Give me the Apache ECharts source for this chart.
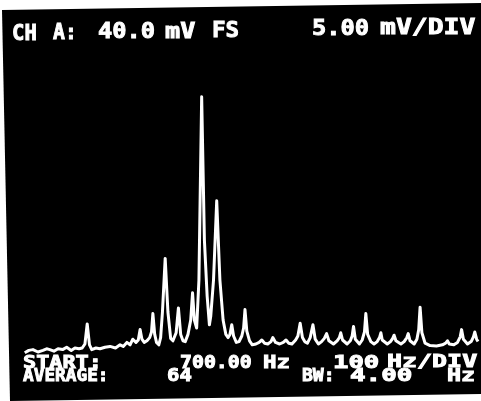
<!DOCTYPE html>
<html>
<head>
<meta charset="utf-8">
<style>
  html, body { margin: 0; padding: 0; background: #fff; }
  #chart { width: 481px; height: 401px; }
</style>
<script src="https://cdn.jsdelivr.net/npm/echarts@6/dist/echarts.min.js"></script>
</head>
<body>
<div id="chart"></div>
<script>
// Averaged spectrum trace: frequency (Hz) and level (mV)
const traceHz = [
  706, 715, 724, 735, 746, 754, 761, 770, 779, 789,
  798, 808, 816, 825, 832, 838, 843, 848, 853, 862,
  871, 882, 893, 905, 915, 922, 930, 937, 943, 950,
  955, 959, 963, 968, 974, 980, 984, 987, 991, 995,
  1000, 1004, 1008, 1014, 1020, 1026, 1031, 1038, 1043, 1048,
  1053, 1058, 1064, 1070, 1074, 1078, 1083, 1088, 1094, 1100,
  1106, 1111, 1114, 1120, 1127, 1134, 1141, 1147, 1152, 1156,
  1160, 1164, 1170, 1176, 1182, 1186, 1189, 1193, 1199, 1205,
  1213, 1220, 1226, 1232, 1239, 1246, 1250, 1256, 1265, 1273,
  1279, 1285, 1292, 1300, 1305, 1310, 1315, 1320, 1326, 1332,
  1338, 1343, 1350, 1357, 1363, 1368, 1373, 1383, 1391, 1396,
  1399, 1403, 1413, 1420, 1424, 1427, 1431, 1440, 1446, 1451,
  1454, 1458, 1465, 1472, 1479, 1484, 1487, 1490, 1501, 1508,
  1513, 1516, 1520, 1531, 1538, 1544, 1547, 1551, 1560, 1566,
  1570, 1573, 1577, 1584, 1595, 1609, 1622, 1629, 1633, 1637,
  1647, 1655, 1661, 1664, 1668, 1677, 1685, 1690, 1693, 1697,
  1700
];
const traceMv = [
  0.9, 1.2, 1.3, 1.0, 1.2, 1.4, 1.3, 1.1, 1.4, 1.3,
  1.6, 1.2, 1.5, 1.4, 1.5, 2.0, 4.5, 1.9, 1.3, 1.5,
  1.4, 1.6, 1.7, 1.5, 1.9, 1.7, 2.2, 1.9, 2.6, 2.2,
  2.5, 3.8, 2.6, 2.2, 2.4, 2.8, 3.5, 5.8, 3.2, 2.2,
  1.9, 2.8, 6.0, 12.7, 6.0, 2.7, 2.4, 3.4, 6.5, 3.2,
  2.4, 2.3, 3.2, 5.0, 8.4, 5.0, 4.0, 10.0, 32.9, 15.0,
  8.0, 4.4, 5.5, 10.0, 19.9, 10.0, 5.0, 3.2, 2.8, 3.2,
  4.4, 3.0, 2.2, 2.3, 3.0, 4.0, 6.3, 3.6, 2.4, 1.9,
  2.0, 2.2, 2.5, 2.1, 2.0, 2.3, 2.8, 2.2, 2.0, 2.2,
  2.5, 2.1, 2.0, 2.5, 3.0, 4.6, 2.8, 2.3, 2.1, 2.8,
  4.4, 2.6, 2.0, 2.3, 2.7, 3.3, 2.4, 2.0, 2.4, 2.8,
  3.4, 2.5, 2.0, 2.4, 3.0, 4.2, 2.6, 2.0, 2.5, 3.5,
  5.8, 3.2, 2.3, 2.0, 2.3, 2.8, 3.4, 2.5, 2.0, 2.3,
  2.7, 3.1, 2.4, 2.0, 2.3, 2.8, 3.3, 2.4, 2.0, 2.6,
  3.8, 6.6, 3.4, 2.1, 1.8, 1.75, 1.9, 2.1, 2.4, 2.0,
  1.9, 2.2, 2.9, 3.8, 2.6, 2.0, 2.3, 2.9, 3.5, 2.6,
  2.3
];

// Display scales: start 700 Hz, 100 Hz/div over 10 divisions; 40 mV full scale
const freqStart = 700;
const freqPerDiv = 100;
const freqDivs = 10;
const fullScaleMv = 40;

// On-screen readouts
const readoutTop = ['CH', 'A:', '40.0', 'mV', 'FS', '5.00', 'mV/DIV'];
const readoutLine1 = ['START:', '700.00', 'Hz', '100', 'Hz/DIV'];
const readoutLine2 = ['AVERAGE:', '64', 'BW:', '4.00', 'Hz'];

// Placement of each readout word: left/right extent and vertical centre
const topBoxes = [[12, 35, 34.5], [53, 75, 34], [98, 153, 33], [165, 193, 32.5], [212, 237, 32], [312, 367, 29.5], [380, 473, 29]];
const line1Boxes = [[23, 100, 364], [180, 250, 364], [263, 288, 364], [333, 377, 364], [387, 475, 363]];
const line2Boxes = [[23, 107, 376.5], [167, 190, 376.5], [302, 333, 376.5], [350, 410, 376.5], [447, 473, 376.5]];

const monoFont = 'DejaVu Sans Mono';

function readoutItems(words, boxes, size) {
  return words.map((w, i) => {
    const [x1, x2, yc] = boxes[i];
    const natural = 0.602 * size * Math.max(w.length - 0.15, 0.85);
    return {
      type: 'text',
      z: 10,
      x: x1,
      y: yc,
      scaleX: (x2 - x1) / natural,
      originX: 0,
      originY: 0,
      style: {
        text: w,
        x: 0,
        y: 0,
        fill: '#ffffff',
        stroke: '#ffffff',
        lineWidth: 0.9,
        font: 'bold ' + size + 'px "' + monoFont + '"',
        textAlign: 'left',
        textVerticalAlign: 'middle'
      }
    };
  });
}

const chart = echarts.init(document.getElementById('chart'), null, { renderer: 'canvas' });

chart.setOption({
  backgroundColor: '#ffffff',
  animation: false,
  grid: { left: 22, right: 3, top: 40, bottom: 41 },
  xAxis: {
    type: 'value',
    min: freqStart,
    max: freqStart + freqPerDiv * freqDivs,
    interval: freqPerDiv,
    show: false
  },
  yAxis: {
    type: 'value',
    min: 0,
    max: fullScaleMv,
    show: false
  },
  graphic: [
    {
      type: 'polygon',
      z: -100,
      silent: true,
      shape: { points: [[2, 10], [481, 3], [481, 394], [10, 401]] },
      style: { fill: '#000000' }
    },
    ...readoutItems(readoutTop, topBoxes, 21),
    ...readoutItems(readoutLine1, line1Boxes, 16.8),
    ...readoutItems(readoutLine2, line2Boxes, 16.8)
  ],
  series: [{
    type: 'line',
    data: traceHz.map((f, i) => [f, traceMv[i]]),
    showSymbol: false,
    smooth: false,
    lineStyle: { color: '#ffffff', width: 3, join: 'round' },
    z: 5
  }]
});
</script>
</body>
</html>
